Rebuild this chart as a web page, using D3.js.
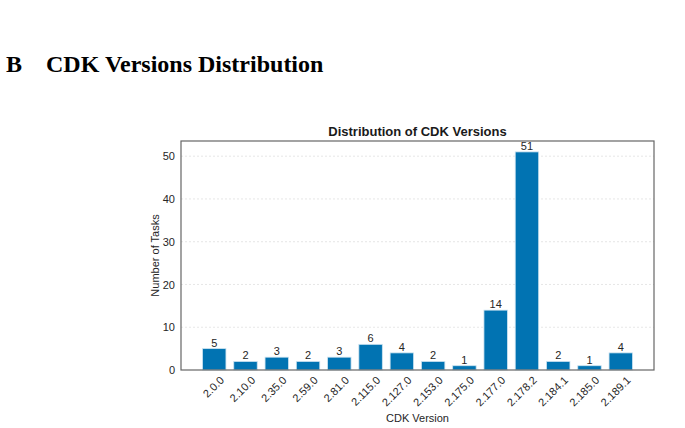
<!DOCTYPE html>
<html><head><meta charset="utf-8">
<script src="https://cdn.jsdelivr.net/npm/d3@7"></script>
<style>
html,body{margin:0;padding:0;background:#fff;}
svg{display:block;}
</style></head>
<body>
<svg id="chart" width="685" height="428"></svg>
<script>
const versions = ["2.0.0","2.10.0","2.35.0","2.59.0","2.81.0","2.115.0","2.127.0","2.153.0","2.175.0","2.177.0","2.178.2","2.184.1","2.185.0","2.189.1"];
const counts = [5,2,3,2,3,6,4,2,1,14,51,2,1,4];
const yTicks = [0,10,20,30,40,50];

const svg = d3.select("#chart");
const L = 181, R = 654, T = 141, B = 370;
const barW = 0.75;
const n = versions.length;
const pad = 0.05*(n-1+barW);
const x = d3.scaleLinear().domain([-barW/2-pad, n-1+barW/2+pad]).range([L, R]);
const y = d3.scaleLinear().domain([0, d3.max(counts)*1.05]).range([B, T]);
const sans = "'Liberation Sans',Arial,sans-serif";
const serif = "'Liberation Serif','Times New Roman',serif";
const txt = "#262626";

// header
svg.append("text").attr("x",6).attr("y",72)
  .style("font-family",serif).style("font-weight","bold").style("font-size","24px")
  .text("B");
svg.append("text").attr("x",46).attr("y",72)
  .style("font-family",serif).style("font-weight","bold").style("font-size","24px")
  .text("CDK Versions Distribution");

// grid
svg.append("g").selectAll("line").data(yTicks.filter(d=>d>0)).join("line")
  .attr("x1",L).attr("x2",R).attr("y1",d=>y(d)).attr("y2",d=>y(d))
  .attr("stroke","#e0e0e0").attr("stroke-width",0.8).attr("stroke-dasharray","2,2");

// bars
svg.append("g").selectAll("rect").data(counts).join("rect")
  .attr("x",(d,i)=>x(i-barW/2)).attr("width",(d,i)=>x(i+barW/2)-x(i-barW/2))
  .attr("y",d=>y(d)).attr("height",d=>B-y(d))
  .attr("fill","#0173b2").attr("stroke","#cde3f0").attr("stroke-width",0.8);

// value labels
svg.append("g").selectAll("text").data(counts).join("text")
  .attr("x",(d,i)=>x(i)).attr("y",d=>y(d)-2)
  .attr("text-anchor","middle")
  .style("font-family",sans).style("font-size","11px").style("fill",txt)
  .text(d=>d);

// frame
svg.append("rect").attr("x",L).attr("y",T).attr("width",R-L).attr("height",B-T)
  .attr("fill","none").attr("stroke","#666").attr("stroke-width",1.2);

// y axis
const yAxis = d3.axisLeft(y).tickValues(yTicks).tickSize(0).tickPadding(6);
const gy = svg.append("g").attr("transform",`translate(${L},0)`).call(yAxis);
gy.select(".domain").remove();
gy.selectAll("text").style("font-family",sans).style("font-size","11px").style("fill",txt);

// x axis
const xAxis = d3.axisBottom(x).tickValues(d3.range(n)).tickFormat(i=>versions[i]).tickSize(0).tickPadding(4);
const gx = svg.append("g").attr("transform",`translate(0,${B})`).call(xAxis);
gx.select(".domain").remove();
gx.selectAll("text")
  .style("font-family",sans).style("font-size","11px").style("fill",txt)
  .attr("text-anchor","end").attr("dy","0").attr("y",0)
  .attr("transform","translate(10,11) rotate(-45)");

// titles
svg.append("text").attr("x",(L+R)/2).attr("y",136).attr("text-anchor","middle")
  .style("font-family",sans).style("font-size","13px").style("font-weight","bold").style("fill","#1a1a1a")
  .text("Distribution of CDK Versions");
svg.append("text").attr("x",(L+R)/2).attr("y",422).attr("text-anchor","middle")
  .style("font-family",sans).style("font-size","11px").style("fill",txt)
  .text("CDK Version");
svg.append("text").attr("transform",`translate(159,${(T+B)/2}) rotate(-90)`).attr("text-anchor","middle")
  .style("font-family",sans).style("font-size","11px").style("fill",txt)
  .text("Number of Tasks");
</script>
</body></html>
